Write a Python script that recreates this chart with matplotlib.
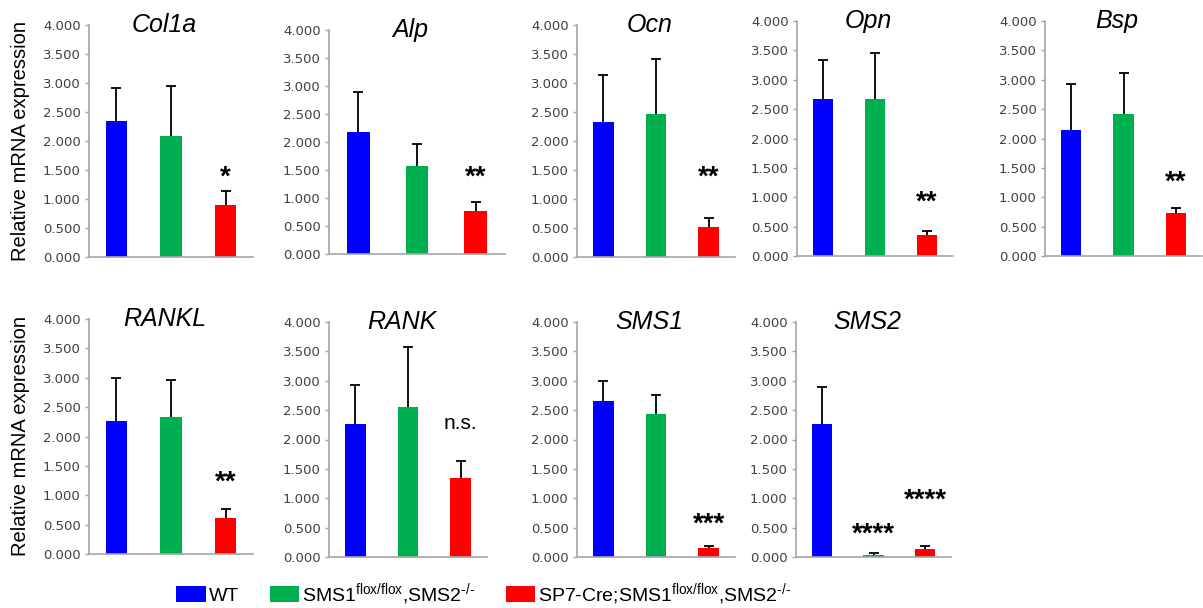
import matplotlib
matplotlib.use('Agg')
import matplotlib.pyplot as plt

plt.rcParams['font.family'] = ['Liberation Sans', 'DejaVu Sans']
plt.rcParams['mathtext.fontset'] = 'custom'
plt.rcParams['mathtext.rm'] = 'Liberation Sans'
plt.rcParams['mathtext.it'] = 'Liberation Sans:italic'

# data
genes = ['Col1a', 'Alp', 'Ocn', 'Opn', 'Bsp', 'RANKL', 'RANK', 'SMS1', 'SMS2']
groups = ['WT', 'SMS1$^{\\mathrm{flox/flox}}$,SMS2$^{\\mathrm{\u2010/\u2010}}$',
          'SP7-Cre;SMS1$^{\\mathrm{flox/flox}}$,SMS2$^{\\mathrm{\u2010/\u2010}}$']
colors = ['#0000FF', '#00B050', '#FF0000']

wt_mean = [2.35, 2.17, 2.32, 2.68, 2.15, 2.26, 2.26, 2.66, 2.26]
wt_err = [0.57, 0.73, 0.81, 0.66, 0.78, 0.74, 0.66, 0.33, 0.64]
ko_mean = [2.09, 1.58, 2.46, 2.67, 2.41, 2.33, 2.55, 2.44, 0.03]
ko_err = [0.86, 0.39, 0.95, 0.78, 0.70, 0.64, 1.03, 0.32, 0.04]
cko_mean = [0.89, 0.77, 0.52, 0.35, 0.74, 0.61, 1.34, 0.16, 0.13]
cko_err = [0.25, 0.15, 0.16, 0.08, 0.07, 0.15, 0.29, 0.03, 0.06]

# significance marks: (gene index, group index, label, y)
marks = [
    (0, 2, '*', 1.47),
    (1, 2, '**', 1.47),
    (2, 2, '**', 1.47),
    (3, 2, '**', 1.01),
    (4, 2, '**', 1.35),
    (5, 2, '**', 1.32),
    (6, 2, 'n.s.', 2.28),
    (7, 2, '***', 0.66),
    (8, 1, '****', 0.49),
    (8, 2, '****', 1.06),
]

# panel boxes in pixels: left, right, top, bottom
W, H = 1203, 608
boxes = [
    (89, 253, 25, 257), (329, 505, 30, 254), (577, 735, 25, 257),
    (797, 953, 21, 256), (1045, 1202, 21, 256),
    (89, 253, 319, 554), (329, 487, 322, 557), (577, 735, 322, 557),
    (796, 951, 322, 557),
]

fig = plt.figure(figsize=(W / 100, H / 100), dpi=100)
axis_gray = '#A6A6A6'
tick_col = '#404040'

handles = []
for i, gene in enumerate(genes):
    l, r, t, b = boxes[i]
    ax = fig.add_axes([l / W, 1 - b / H, (r - l) / W, (b - t) / H])
    means = [wt_mean[i], ko_mean[i], cko_mean[i]]
    errs = [wt_err[i], ko_err[i], cko_err[i]]
    xs = [0, 1, 2]
    bars = ax.bar(xs, means, width=0.39, color=colors, zorder=2)
    eb = ax.errorbar(xs, means, yerr=[[0, 0, 0], errs], fmt='none', ecolor='black',
                     elinewidth=1.3, capsize=3.5, capthick=1.3, zorder=3)
    # keep only the upper caps
    eb[1][0].set_visible(False)
    if i == 0:
        handles = list(bars)
    ax.set_xlim(-0.5, 2.5)
    ax.set_ylim(0, 4)
    ax.set_yticks([0, 0.5, 1, 1.5, 2, 2.5, 3, 3.5, 4])
    ax.set_yticklabels(['%.3f' % v for v in ax.get_yticks()],
                       family='DejaVu Sans', fontsize=9.5, color=tick_col)
    ax.set_xticks([])
    for s in ['top', 'right']:
        ax.spines[s].set_visible(False)
    for s in ['left', 'bottom']:
        ax.spines[s].set_color(axis_gray)
        ax.spines[s].set_linewidth(1.2)
    ax.tick_params(axis='y', length=3, width=1, color=axis_gray, pad=3)
    ax.text(0.46, 1.0, gene, transform=ax.transAxes, ha='center', va='center',
            fontsize=18, style='italic')
    if i in (0, 5):
        ax.set_ylabel('Relative mRNA expression', fontsize=14.5, labelpad=9)
    for gi, grp, lab, y in marks:
        if gi == i:
            if lab == 'n.s.':
                ax.text(grp, y, lab, ha='center', va='center', fontsize=15)
            else:
                ax.annotate(lab, (grp, y), xytext=(0, -4.5), textcoords='offset points',
                            ha='center', va='center', fontsize=20, fontweight='bold')

fig.legend(handles, groups, loc='center', bbox_to_anchor=(484 / W, 1 - 594 / H),
           ncol=3, frameon=False, fontsize=14, handlelength=1.5, handleheight=0.9,
           handletextpad=0.15, columnspacing=1.6, borderpad=0, borderaxespad=0)

fig.savefig('out.png', dpi=100)
